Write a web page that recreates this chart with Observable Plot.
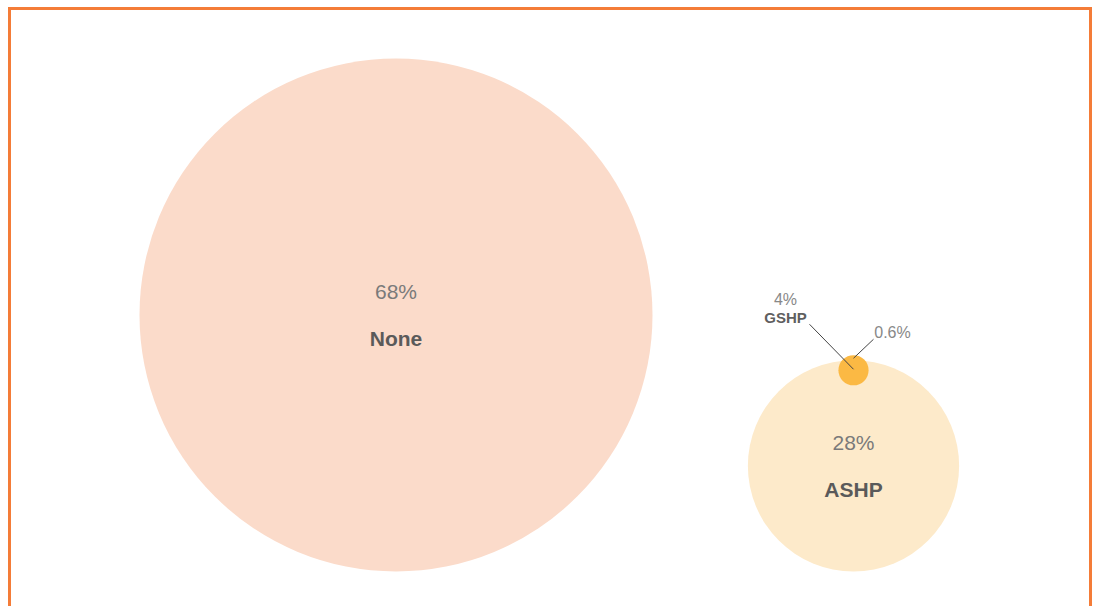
<!DOCTYPE html>
<html>
<head>
<meta charset="utf-8">
<script src="https://cdn.jsdelivr.net/npm/d3@7"></script>
<script src="https://cdn.jsdelivr.net/npm/@observablehq/plot@0.6"></script>
<style>
  html, body { margin: 0; padding: 0; background: #fff; overflow: hidden; }
  #wrap { position: relative; width: 1097px; height: 606px; }
  #frame { position: absolute; left: 8px; top: 7px; width: 1078px; height: 700px;
           border: 3px solid #F47C38; border-bottom: none; box-sizing: content-box; }
  #chart { position: absolute; left: 0; top: 0; }
</style>
</head>
<body>
<div id="wrap"><div id="frame"></div><div id="chart"></div></div>
<script>
// ---- data ----
const categories = ["None", "ASHP", "GSHP"];
const shares = [68, 28, 4];
const shareLabels = ["68%", "28%", "4%"];
const overlapShare = 0.6;
const overlapLabel = "0.6%";

// ---- layout (derived from values) ----
const W = 1097, H = 606;
const rScale = d3.scaleLinear().domain([0, 68]).range([0, 256.5]);
const baseline = 571;
const rNone = rScale(shares[0]), rA = rScale(shares[1]), rG = rScale(shares[2]);
const nodes = [
  {name: categories[0], share: shares[0], label: shareLabels[0], cx: 395.5, cy: baseline - rNone, fill: "#FBDBCA"},
  {name: categories[1], share: shares[1], label: shareLabels[1], cx: 853, cy: baseline - rA, fill: "#FDEACA"},
  {name: categories[2], share: shares[2], label: shareLabels[2], cx: 853, cy: baseline - 2 * rA + 10, fill: "#FBB944"}
];
const big = nodes.slice(0, 2);
const g = nodes[2];
const leaders = [
  {x1: g.cx - 44, y1: g.cy - 46, x2: g.cx, y2: g.cy - 1},
  {x1: g.cx + 20, y1: g.cy - 31, x2: g.cx, y2: g.cy - 12}
];
const smallLabels = [
  {x: g.cx - 68, y: g.cy - 65, text: g.label, weight: "normal"},
  {x: g.cx - 68, y: g.cy - 47, text: g.name, weight: "bold"},
  {x: g.cx + 39, y: g.cy - 32, text: overlapLabel, weight: "normal"}
];

const plot = Plot.plot({
  width: W, height: H,
  margin: 0,
  x: {type: "identity", axis: null},
  y: {type: "identity", axis: null},
  r: {type: "linear", domain: [0, 68], range: [0, 256.5]},
  style: {fontFamily: "'Liberation Sans', Arial, sans-serif", background: "transparent"},
  marks: [
    Plot.dot(nodes, {x: "cx", y: "cy", r: "share", fill: "fill", stroke: null}),
    Plot.text(big, {x: "cx", y: "cy", text: "label", dy: -16, lineAnchor: "bottom", fontSize: 21, fill: "#7a7a7a"}),
    Plot.text(big, {x: "cx", y: "cy", text: "name", dy: 31, lineAnchor: "bottom", fontSize: 21, fill: "#5a5a5a", fontWeight: "bold"}),
    Plot.link(leaders, {x1: "x1", y1: "y1", x2: "x2", y2: "y2", stroke: "#444", strokeWidth: 1}),
    Plot.text(smallLabels.filter(d => d.weight === "normal"), {x: "x", y: "y", text: "text", lineAnchor: "bottom", fontSize: 16, fill: "#888"}),
    Plot.text(smallLabels.filter(d => d.weight === "bold"), {x: "x", y: "y", text: "text", lineAnchor: "bottom", fontSize: 15, fill: "#5f5f5f", fontWeight: "bold"})
  ]
});
document.getElementById("chart").appendChild(plot);
</script>
</body>
</html>
